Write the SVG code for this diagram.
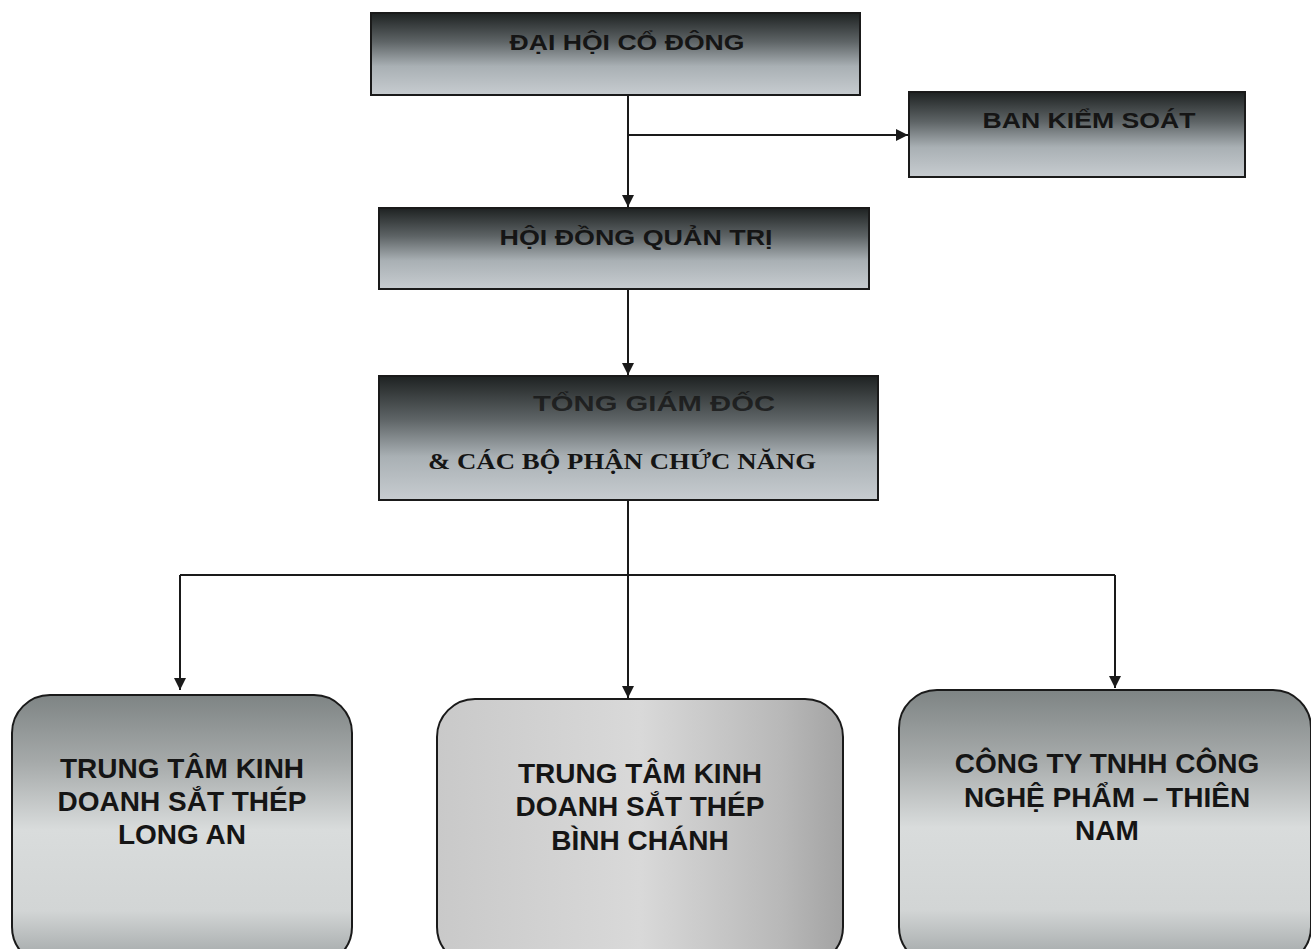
<svg xmlns="http://www.w3.org/2000/svg" width="1311" height="949" viewBox="0 0 1311 949">
<style>
.box{stroke:#1a1a1a;stroke-width:2}
.t{font-family:"Liberation Sans",Arial,sans-serif;font-weight:bold;fill:#151515;text-anchor:middle}
.s{font-family:"Liberation Serif","Times New Roman",serif;font-weight:bold;fill:#151515;text-anchor:middle}
.c{stroke:#1a1a1a;stroke-width:2;fill:none}
</style>
<defs>
<linearGradient id="gTop" x1="0" y1="0" x2="0" y2="1">
<stop offset="0" stop-color="#1e2222"/>
<stop offset="0.35" stop-color="#5e6466"/>
<stop offset="0.65" stop-color="#a9b0b4"/>
<stop offset="1" stop-color="#c7ccd0"/>
</linearGradient>
<linearGradient id="gRound" x1="0" y1="0" x2="0" y2="1">
<stop offset="0" stop-color="#7e8484"/>
<stop offset="0.25" stop-color="#a6aaaa"/>
<stop offset="0.5" stop-color="#d9dcdc"/>
<stop offset="0.8" stop-color="#d2d5d5"/>
<stop offset="1" stop-color="#9ea3a4"/>
</linearGradient>
<linearGradient id="gMid" x1="0" y1="0" x2="1" y2="0">
<stop offset="0" stop-color="#c9c9c9"/>
<stop offset="0.5" stop-color="#d9d9d9"/>
<stop offset="0.85" stop-color="#b8b8b8"/>
<stop offset="1" stop-color="#a3a3a3"/>
</linearGradient>
<marker id="arr" viewBox="0 0 10 10" refX="10" refY="5" markerWidth="14" markerHeight="12" markerUnits="userSpaceOnUse" orient="auto">
<path d="M0,0 L10,5 L0,10 z" fill="#1a1a1a"/>
</marker>
</defs>
<rect width="1311" height="949" fill="#ffffff"/>
<g id="connectors">
<line class="c" x1="628" y1="95" x2="628" y2="207" marker-end="url(#arr)"/>
<line class="c" x1="628" y1="135" x2="908" y2="135" marker-end="url(#arr)"/>
<line class="c" x1="628" y1="290" x2="628" y2="375" marker-end="url(#arr)"/>
<line class="c" x1="628" y1="500" x2="628" y2="698" marker-end="url(#arr)"/>
<polyline class="c" points="180,575 1115,575"/>
<line class="c" x1="180" y1="575" x2="180" y2="690" marker-end="url(#arr)"/>
<line class="c" x1="1115" y1="575" x2="1115" y2="688" marker-end="url(#arr)"/>
</g>
<g id="node-dhcd">
<rect class="box" x="371" y="13" width="489" height="82" fill="url(#gTop)"/>
<text class="t" x="627" y="50" font-size="22" textLength="235" lengthAdjust="spacingAndGlyphs">ĐẠI HỘI CỔ ĐÔNG</text>
</g>
<g id="node-bks">
<rect class="box" x="909" y="92" width="336" height="85" fill="url(#gTop)"/>
<text class="t" x="1089" y="128" font-size="22" textLength="213" lengthAdjust="spacingAndGlyphs">BAN KIỂM SOÁT</text>
</g>
<g id="node-hdqt">
<rect class="box" x="379" y="208" width="490" height="81" fill="url(#gTop)"/>
<text class="t" x="636" y="245" font-size="22" textLength="273" lengthAdjust="spacingAndGlyphs">HỘI ĐỒNG QUẢN TRỊ</text>
</g>
<g id="node-tgd">
<rect class="box" x="379" y="376" width="499" height="124" fill="url(#gTop)"/>
<text class="t" x="654" y="411" font-size="22" textLength="242" lengthAdjust="spacingAndGlyphs" fill-opacity="0.8">TỔNG GIÁM ĐỐC</text>
<text class="s" x="622" y="469" font-size="23" textLength="388" lengthAdjust="spacingAndGlyphs">&amp; CÁC BỘ PHẬN CHỨC NĂNG</text>
</g>
<g id="node-longan">
<rect class="box" x="12" y="695" width="340" height="270" rx="38" fill="url(#gRound)"/>
<text class="t" font-size="28"><tspan x="182" y="778">TRUNG TÂM KINH</tspan><tspan x="182" y="811">DOANH SẮT THÉP</tspan><tspan x="182" y="844">LONG AN</tspan></text>
</g>
<g id="node-binhchanh">
<rect class="box" x="437" y="699" width="406" height="266" rx="38" fill="url(#gMid)" stroke="#555"/>
<text class="t" font-size="28"><tspan x="640" y="783">TRUNG TÂM KINH</tspan><tspan x="640" y="816">DOANH SẮT THÉP</tspan><tspan x="640" y="850">BÌNH CHÁNH</tspan></text>
</g>
<g id="node-thiennam">
<rect class="box" x="899" y="690" width="412" height="275" rx="38" fill="url(#gRound)"/>
<text class="t" font-size="28"><tspan x="1107" y="773">CÔNG TY TNHH CÔNG</tspan><tspan x="1107" y="807">NGHỆ PHẨM – THIÊN</tspan><tspan x="1107" y="840">NAM</tspan></text>
</g>
</svg>
